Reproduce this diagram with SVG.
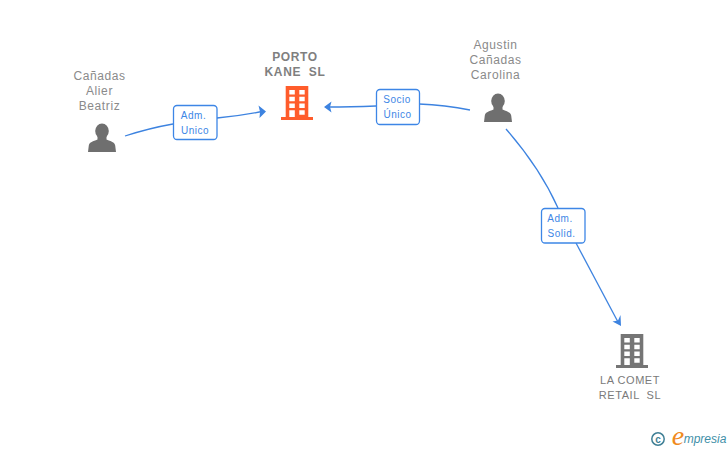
<svg xmlns="http://www.w3.org/2000/svg" width="728" height="450" viewBox="0 0 728 450">
<style>
text{font-family:"Liberation Sans",Arial,sans-serif;text-anchor:middle}
.n{font-size:12px;fill:#8a8a8a;letter-spacing:.6px}
.b{font-size:12px;font-weight:bold;fill:#7f7f7f;letter-spacing:.6px}
.b2{font-size:11px;fill:#7a7a7a;letter-spacing:.55px}
.l{font-size:10px;fill:#3d86e6;letter-spacing:.5px}
.c{fill:none;stroke:#3d83e0;stroke-width:1.3}
.h{fill:#3d83e0}
.box{fill:#fff;stroke:#3d86e6;stroke-width:1.3}
</style>
<defs>
<g id="person"><ellipse cx="14" cy="7" rx="6.800" ry="7.500"/><path d="M9.500 12V15.500C5 17.500 1.500 18 .8 21.500L0 28H28L27.200 21.500C26.500 18 23 17.500 18.500 15.500V12Z"/></g>
<path id="bld" fill-rule="evenodd" d="M4.700 0H27.300V31H32V34H0V31H4.700ZM8.300 4V8.500H13.800V4ZM18.300 4V8.500H23.700V4ZM8.300 10.800V15.200H13.800V10.800ZM18.300 10.800V15.200H23.700V10.800ZM8.300 17.500V22H13.800V17.500ZM18.300 17.500V22H23.700V17.500ZM8.300 24.300V31H13.800V24.300ZM18.300 24.300V28.800H23.700V24.300Z"/>
</defs>
<g id="connectors">
<path class="c" d="M125 136Q150 128 173 124"/>
<path class="c" d="M217 118Q240 116 262 111.500"/>
<path class="h" d="M266 111.500L258.500 105.500L260 111.800L259.500 118Z"/>
<path class="c" d="M470 110Q445 105 419 104"/>
<path class="c" d="M376 106Q350 107 328 107"/>
<path class="h" d="M324 107L331.500 101.500L330 107L331.500 112.500Z"/>
<path class="c" d="M506 129Q540 168 558 208"/>
<path class="c" d="M576 243L618 322"/>
<path class="h" d="M621 326L612.500 321.500L618 320.500L620.500 315Z"/>
</g>
<g id="node-beatriz"><use href="#person" x="88" y="124" fill="#6f6f6f"/>
<text class="n" x="99.500" y="80">Cañadas</text><text class="n" x="99.500" y="95">Alier</text><text class="n" x="99.500" y="110">Beatriz</text></g>
<g id="node-porto"><use href="#bld" x="281" y="86" fill="#ff5c2b"/>
<text class="b" x="295" y="61">PORTO</text><text class="b" x="295" y="76" xml:space="preserve">KANE  SL</text></g>
<g id="node-agustin"><use href="#person" x="484" y="94" fill="#6f6f6f"/>
<text class="n" x="495.500" y="49">Agustin</text><text class="n" x="495.500" y="64">Cañadas</text><text class="n" x="495.500" y="79">Carolina</text></g>
<g id="node-lacomet"><use href="#bld" x="616" y="334" fill="#757575"/>
<text class="b2" x="630" y="384">LA COMET</text><text class="b2" x="630" y="399" xml:space="preserve">RETAIL  SL</text></g>
<g id="label-1"><rect class="box" x="173.500" y="105.500" width="43.500" height="34" rx="3.500"/><text class="l" x="193.500" y="119">Adm.</text><text class="l" x="195" y="134">Unico</text></g>
<g id="label-2"><rect class="box" x="376.500" y="89.500" width="43" height="35" rx="3.500"/><text class="l" x="397" y="103">Socio</text><text class="l" x="397.500" y="118">Único</text></g>
<g id="label-3"><rect class="box" x="541.500" y="208.500" width="43.500" height="34.500" rx="3.500"/><text class="l" x="560" y="222">Adm.</text><text class="l" x="561.500" y="237">Solid.</text></g>
<g id="logo"><circle cx="658" cy="439" r="6.200" fill="none" stroke="#3f7f95" stroke-width="1.500"/>
<text x="658" y="442.500" style="font-size:10px;font-weight:bold;fill:#3f7f95">c</text>
<text x="678" y="445" style="font-family:'Liberation Serif',serif;font-size:28px;font-style:italic;fill:#f08a1d">e</text>
<text x="705" y="443" style="font-size:12px;font-style:italic;fill:#3f8fa8">mpresia</text></g>
</svg>
